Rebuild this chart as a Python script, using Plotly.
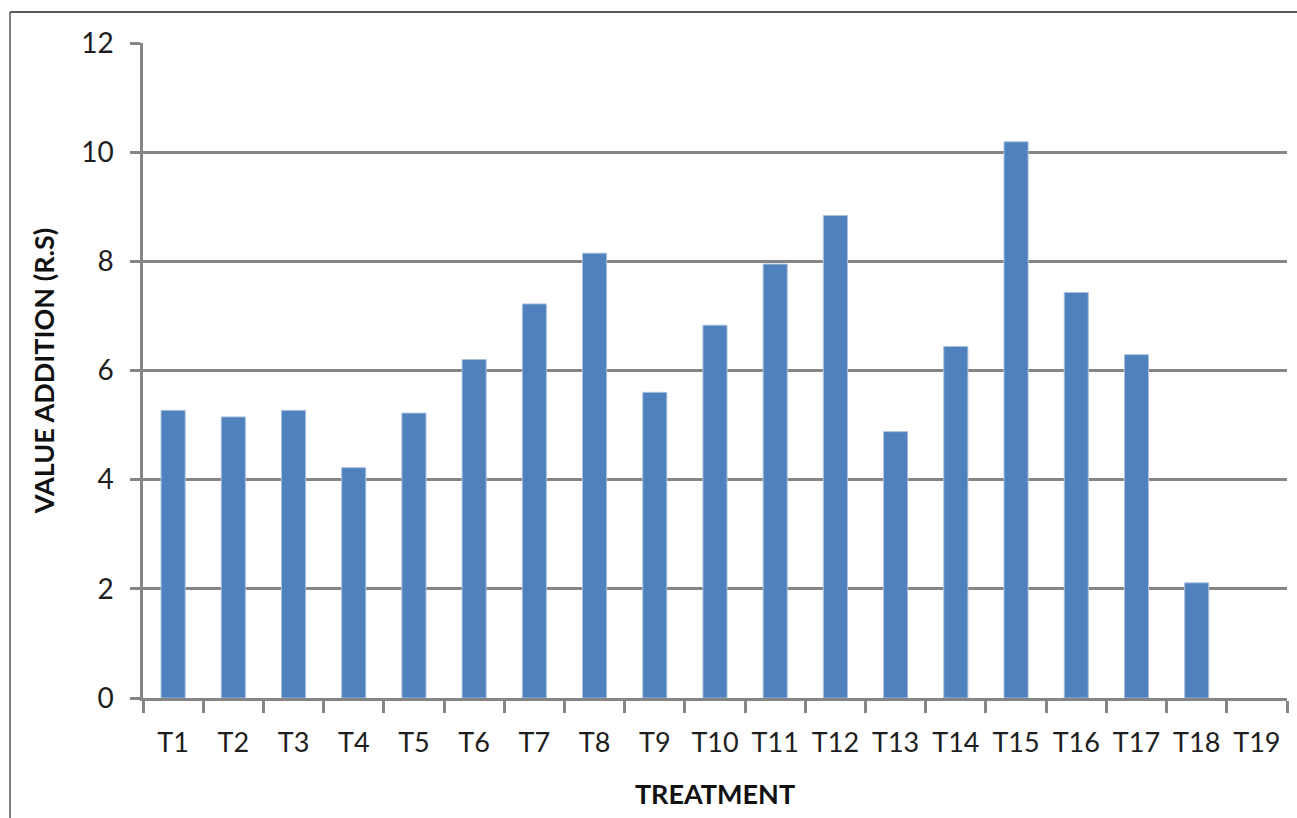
import plotly.graph_objects as go

# Value addition per treatment
treatments = [f"T{i}" for i in range(1, 20)]
value_addition = [5.27, 5.15, 5.27, 4.22, 5.22, 6.20, 7.22, 8.15, 5.60, 6.83,
                  7.95, 8.84, 4.88, 6.44, 10.19, 7.43, 6.29, 2.11, 0.0]
y_ticks = [0, 2, 4, 6, 8, 10, 12]

W, H = 1297, 818
L, R, T, B = 143, 10, 43, 120
pw, ph = W - L - R, H - T - B

font_family = "Lato, 'Open Sans', sans-serif"
grid_col = "#858585"
text_col = "#1e1e1e"

fig = go.Figure(
    go.Bar(
        x=treatments,
        y=value_addition,
        width=0.4,
        marker=dict(
            color="#4F81BD",
            line=dict(color="#A9C1DF", width=[1 if v > 0 else 0 for v in value_addition]),
        ),
    )
)

# outer frame (left and top edges)
fx = (10 - L) / pw
fy = (H - B - 12) / ph
fig.add_shape(type="line", xref="paper", yref="paper", x0=fx, x1=(W - L) / pw + 0.01,
              y0=fy, y1=fy, line=dict(color="#222", width=1.5))
fig.add_shape(type="line", xref="paper", yref="paper", x0=fx, x1=fx,
              y0=fy, y1=-B / ph - 0.01, line=dict(color="#555", width=1.5))

fig.update_layout(
    width=W, height=H,
    margin=dict(l=L, r=R, t=T, b=B, pad=0),
    paper_bgcolor="white", plot_bgcolor="white",
    showlegend=False,
    font=dict(family=font_family, size=27, color=text_col),
    bargap=0.6,
)

fig.update_xaxes(
    type="category",
    tickson="boundaries",
    ticks="outside", ticklen=12, tickwidth=2.5, tickcolor=grid_col,
    showline=True, linecolor=grid_col, linewidth=2.5,
    showgrid=False,
    tickfont=dict(size=27, color=text_col),
    ticklabelstandoff=19,
    title=dict(text="<b>TREATMENT</b>", font=dict(size=27, color="#111"), standoff=28),
    range=[-0.5, 18.5],
)

fig.update_yaxes(
    range=[0, 12],
    tickvals=y_ticks,
    ticks="outside", ticklen=10, tickwidth=2.5, tickcolor=grid_col,
    showline=True, linecolor=grid_col, linewidth=2.5,
    showgrid=True, gridcolor=grid_col, gridwidth=2.5,
    zeroline=False,
    tickfont=dict(size=28, color=text_col),
    ticklabelstandoff=11,
    title=dict(text="<b>VALUE ADDITION (R.S)</b>", font=dict(size=27, color="#111"), standoff=19),
)

fig.write_html("out.html")
